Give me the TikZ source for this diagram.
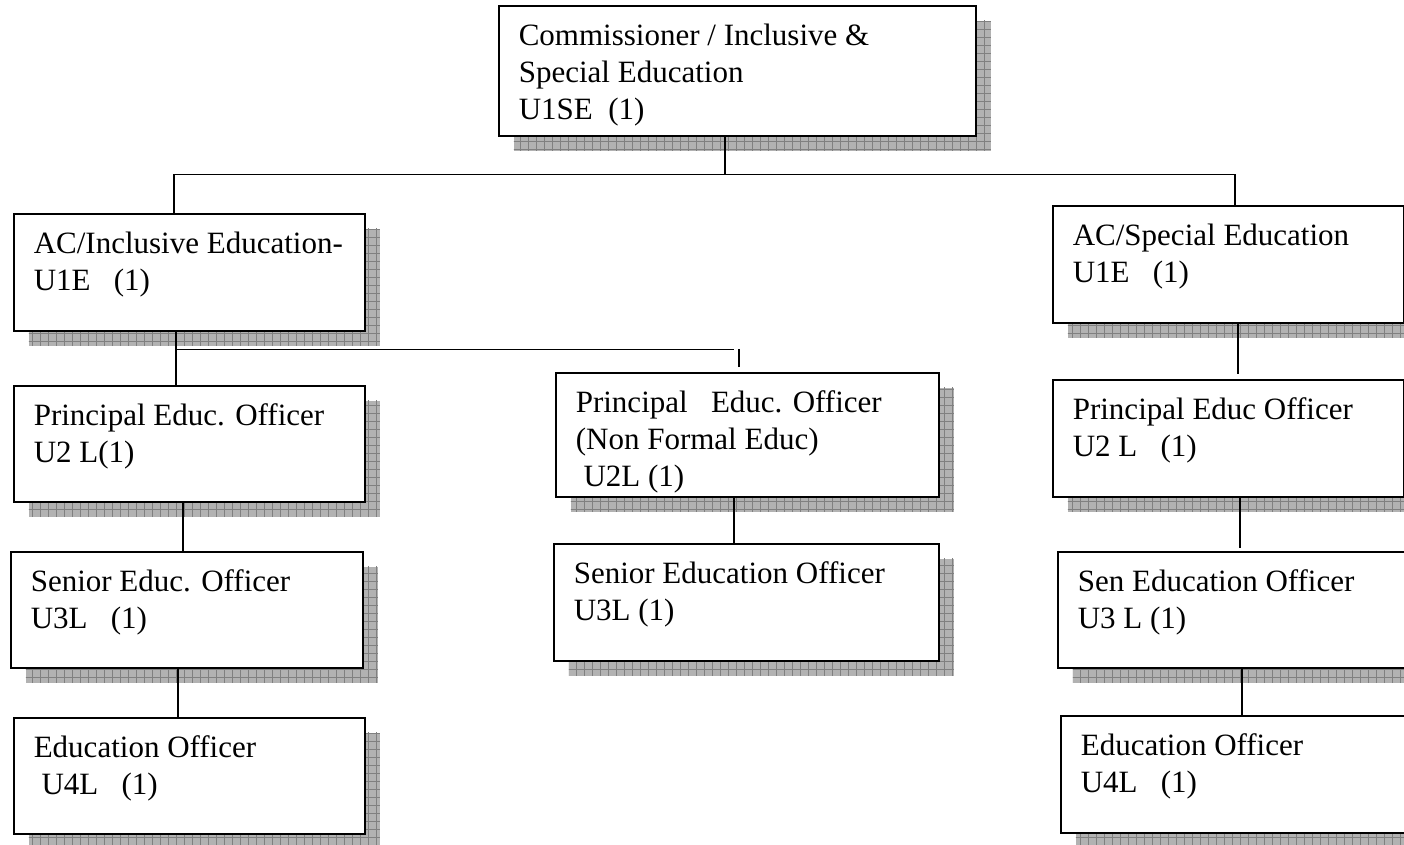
\documentclass[tikz,border=0pt]{standalone}
\usepackage{fontspec}
\setmainfont{Liberation Serif}
\usetikzlibrary{shadows,patterns.meta}

\tikzset{every picture/.style={line width=1.6pt}}
\tikzset{
	grid shadow/.style={
		general shadow={shadow xshift=15pt, shadow yshift=-15pt, fill=black!30},
		general shadow={shadow xshift=15pt, shadow yshift=-15pt, pattern={Lines[angle=0,distance=8pt,line width=0.9pt]}, pattern color=black!50},
		general shadow={shadow xshift=15pt, shadow yshift=-15pt, pattern={Lines[angle=90,distance=8pt,line width=0.9pt]}, pattern color=black!50}},
	post/.style={draw, fill=white, inner sep=0pt, anchor=north west, grid shadow}}
\newcommand{\posttext}[3]{\parbox[t][#2pt][t]{#1pt}{\fontsize{31}{37}\selectfont\raggedright\leftskip=20pt\rule{0pt}{40pt}#3}}

\begin{document}
\begin{tikzpicture}[x=1pt,y=1pt,yscale=-1,xscale=1]
	\useasboundingbox (0,0) rectangle (1404,845);

	% top
	\node[post] (comm) at (498,5) {\posttext{477}{130}{Commissioner / Inclusive \&\\Special Education\\U1SE\ \ (1)}};

	% left column
	\node[post] (acinc) at (13,213) {\posttext{351}{117}{AC/Inclusive Education-\\U1E\ \ \ (1)}};
	\node[post] (peoL) at (13,385) {\posttext{351}{116}{Principal Educ. Officer\\U2 L(1)}};
	\node[post] (seoL) at (10,551) {\posttext{352}{116}{Senior Educ. Officer\\U3L\ \ \ (1)}};
	\node[post] (eoL) at (13,717) {\posttext{351}{116}{Education Officer\\\hspace*{0.25em}U4L\ \ \ (1)}};

	% middle column
	\node[post] (peoM) at (555,372) {\posttext{383}{124}{Principal\ \ \ Educ. Officer\\(Non Formal Educ)\\\hspace*{0.25em}U2L (1)}};
	\node[post] (seoM) at (553,543) {\posttext{385}{117}{Senior Education Officer\\U3L (1)}};

	% right column
	\node[post] (acspec) at (1052,205) {\posttext{351}{117}{AC/Special Education\\U1E\ \ \ (1)}};
	\node[post] (peoR) at (1052,379) {\posttext{351}{117}{Principal Educ Officer\\U2 L\ \ \ (1)}};
	\node[post] (seoR) at (1057,551) {\posttext{351}{116}{Sen Education Officer\\U3 L (1)}};
	\node[post] (eoR) at (1060,715) {\posttext{351}{117}{Education Officer\\U4L\ \ \ (1)}};

	% connectors
	\draw (comm.south west) ++(227,0) -- ++(0,38) coordinate (bus);
	\draw ([xshift=-15.5pt]acinc.north) |- (bus) -| ([xshift=6.5pt]acspec.north);
	\draw ([xshift=-13.5pt]acinc.south) -- ([xshift=-13.5pt]peoL.north);
	\draw ([xshift=-13.5pt,yshift=18pt]acinc.south) -- ++(558,0);
	\draw ([xshift=-8.5pt]peoM.north) ++(0,-5) -- ++(0,-18);
	\draw ([xshift=-6.5pt]peoL.south) -- ([xshift=-6.5pt]peoL.south |- seoL.north);
	\draw ([xshift=-9pt]seoL.south) -- ([xshift=-9pt]seoL.south |- eoL.north);
	\draw ([xshift=-13.5pt]peoM.south) -- ([xshift=-13.5pt]peoM.south |- seoM.north);
	\draw ([xshift=9.5pt]acspec.south) -- ++(0,50);
	\draw ([xshift=11.5pt]peoR.south) -- ++(0,50);
	\draw ([xshift=8.5pt]seoR.south) -- ([xshift=8.5pt]seoR.south |- eoR.north);

\end{tikzpicture}
\end{document}
